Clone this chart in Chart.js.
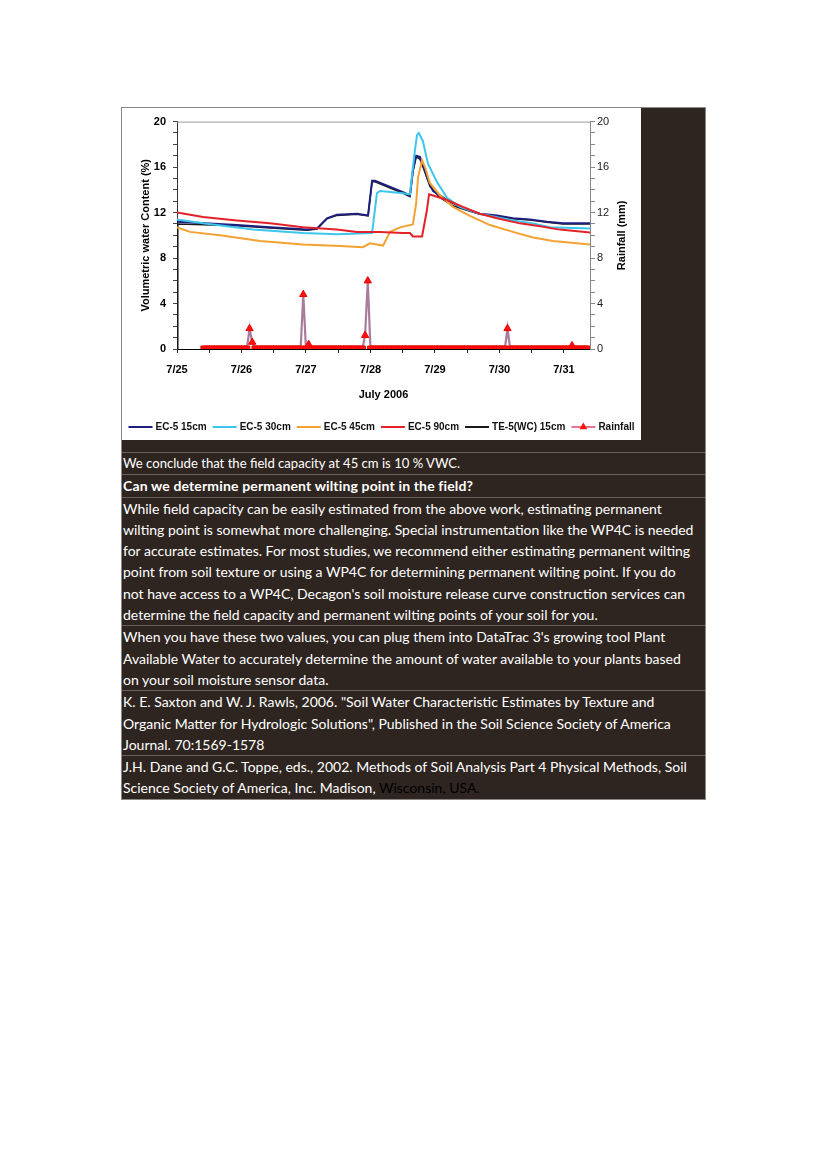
<!DOCTYPE html>
<html>
<head>
<meta charset="utf-8">
<script src="https://cdn.jsdelivr.net/npm/chart.js@4.4.1/dist/chart.umd.min.js"></script>
<style>
  html, body { margin: 0; padding: 0; background: #fff; }
  #sheet { position: absolute; left: 121px; top: 107px; width: 583px; background: #2f2520; border: 1px solid #8c8782; }
  #chartBox { position: relative; width: 519px; height: 332px; background: #fff; }
  #band { height: 12px; }
  .row { border-top: 1px solid #6a605a; color: #fff; font-family: Lato, "Open Sans", sans-serif; font-size: 14px; line-height: 21.3px; padding-left: 1px; white-space: nowrap; }
  .row.first { font-size: 13.1px; }
  .row.head { font-weight: bold; letter-spacing: 0.15px; }
  .dim { color: #000; }
</style>
</head>
<body>
<div id="sheet">
  <div id="chartBox"><canvas id="vwcChart"></canvas></div>
  <div id="band"></div>
  <div class="row first">We conclude that the field capacity at 45 cm is 10 % VWC.</div>
  <div class="row head">Can we determine permanent wilting point in the field?</div>
  <div class="row">While field capacity can be easily estimated from the above work, estimating permanent<br>wilting point is somewhat more challenging. Special instrumentation like the WP4C is needed<br>for accurate estimates. For most studies, we recommend either estimating permanent wilting<br>point from soil texture or using a WP4C for determining permanent wilting point. If you do<br>not have access to a WP4C, Decagon's soil moisture release curve construction services can<br>determine the field capacity and permanent wilting points of your soil for you.</div>
  <div class="row">When you have these two values, you can plug them into DataTrac 3's growing tool Plant<br>Available Water to accurately determine the amount of water available to your plants based<br>on your soil moisture sensor data.</div>
  <div class="row">K. E. Saxton and W. J. Rawls, 2006. "Soil Water Characteristic Estimates by Texture and<br>Organic Matter for Hydrologic Solutions", Published in the Soil Science Society of America<br>Journal. 70:1569-1578</div>
  <div class="row">J.H. Dane and G.C. Toppe, eds., 2002. Methods of Soil Analysis Part 4 Physical Methods, Soil<br>Science Society of America, Inc. Madison, <span class="dim">Wisconsin, USA.</span></div>
</div>
<script>
// x values are hours after 7/25 00:00
const dayLabels = ['7/25', '7/26', '7/27', '7/28', '7/29', '7/30', '7/31'];

const ec15Hours = [0, 22.3, 34.6, 48.4, 52.1, 55.8, 59.5, 67, 71.1, 72.6, 73.7, 84.1, 86.7, 87.8, 89, 90.4, 93, 95.3, 100.5, 106.4, 112.7, 119.1, 125, 131.3, 137.7, 143.6, 153.7];
const ec15Vwc   = [11.2, 10.9, 10.7, 10.5, 10.6, 11.5, 11.8, 11.9, 11.75, 14.8, 14.8, 13.8, 13.5, 15.7, 17.0, 16.9, 15.1, 13.9, 13.1, 12.4, 11.9, 11.75, 11.5, 11.4, 11.2, 11.05, 11.05];

const ec30Hours = [0, 9.7, 28.3, 46.9, 59.5, 72.6, 74.4, 75.5, 84.1, 86.7, 88.2, 89.3, 90, 91.5, 93.4, 96.7, 100.5, 105.3, 112.7, 119.1, 125, 132.5, 138.8, 153.7];
const ec30Vwc   = [11.4, 11.05, 10.5, 10.2, 10.1, 10.2, 13.7, 13.9, 13.7, 13.6, 16.8, 18.8, 19.0, 18.3, 16.3, 14.7, 13.3, 12.5, 11.9, 11.6, 11.3, 11.05, 10.7, 10.6];

const ec45Hours = [0, 4.8, 16, 30.9, 46.9, 60.7, 69.2, 71.8, 76.7, 79.3, 83, 87.8, 89, 89.7, 91.2, 92.3, 94.1, 97.9, 102.7, 109, 116.5, 125, 132.5, 139.9, 153.7];
const ec45Vwc   = [10.7, 10.3, 10.0, 9.5, 9.2, 9.05, 8.95, 9.3, 9.1, 10.3, 10.7, 10.95, 12.8, 15.1, 16.6, 16.0, 14.6, 13.5, 12.5, 11.7, 10.9, 10.3, 9.8, 9.5, 9.2];

const ec90Hours = [0, 9.7, 22.3, 34.6, 46.9, 59.5, 67, 75.5, 84.1, 86.7, 87.8, 91.2, 93, 93.8, 95.3, 100.5, 106.4, 112.7, 119.1, 127.6, 135.1, 142.5, 153.7];
const ec90Vwc   = [12.0, 11.6, 11.3, 11.05, 10.7, 10.5, 10.3, 10.3, 10.2, 10.2, 9.9, 9.9, 12.2, 13.6, 13.5, 13.1, 12.5, 11.9, 11.5, 11.05, 10.8, 10.5, 10.25];

const te5Hours = [0, 0.3, 22.3, 34.6, 48.4, 52.1, 55.8, 59.5, 67, 71.1, 72.6, 73.7, 84.1, 86.7, 87.8, 89, 90.4, 92.3, 94.1, 97.9, 102.7, 106.4, 112.7, 119.1, 125, 131.3, 137.7, 143.6, 153.7];
const te5Vwc   = [0, 11.0, 10.85, 10.65, 10.45, 10.55, 11.45, 11.75, 11.85, 11.7, 14.7, 14.7, 13.7, 13.4, 15.6, 16.9, 16.7, 15.6, 14.3, 13.3, 12.6, 12.3, 11.85, 11.7, 11.45, 11.35, 11.15, 11.0, 11.0];

// hourly rainfall (mm), first value at hour 10 of 7/25
const rainStartHour = 10;
const rainMm = [
  0, 0, 0, 0, 0, 0, 0, 0, 0, 0, 0, 0, 0, 0,
  0, 0, 0, 1.8, 0.6, 0, 0, 0, 0, 0, 0, 0, 0, 0, 0, 0, 0, 0, 0, 0, 0, 0, 0, 4.8,
  0, 0.4, 0, 0, 0, 0, 0, 0, 0, 0, 0, 0, 0, 0, 0, 0, 0, 0, 0, 0, 0, 0, 1.2, 6.0,
  0, 0, 0, 0, 0, 0, 0, 0, 0, 0, 0, 0, 0, 0, 0, 0, 0, 0, 0, 0, 0, 0, 0, 0,
  0, 0, 0, 0, 0, 0, 0, 0, 0, 0, 0, 0, 0, 0, 0, 0, 0, 0, 0, 0, 0, 0, 0, 0,
  0, 0, 0, 1.8, 0, 0, 0, 0, 0, 0, 0, 0, 0, 0, 0, 0, 0, 0, 0, 0, 0, 0, 0, 0,
  0, 0, 0, 0.3, 0, 0, 0, 0, 0, 0
];

const FONT = '"Liberation Sans", Arial, sans-serif';

function pts(hours, vals) {
  return hours.map((h, i) => ({ x: h, y: vals[i] }));
}
const rainPts = rainMm.map((v, i) => ({ x: rainStartHour + i, y: v }));

// top border of the plot area + right axis title
const frame = {
  id: 'frame',
  beforeDatasetsDraw(chart) {
    const { ctx, chartArea } = chart;
    ctx.save();
    ctx.strokeStyle = '#9a9a9a';
    ctx.lineWidth = 1;
    ctx.beginPath();
    ctx.moveTo(chartArea.left, chartArea.top + 0.5);
    ctx.lineTo(chartArea.right, chartArea.top + 0.5);
    ctx.stroke();
    ctx.restore();
  },
  afterDraw(chart) {
    const { ctx, chartArea } = chart;
    ctx.save();
    ctx.translate(500, (chartArea.top + chartArea.bottom) / 2);
    ctx.rotate(-Math.PI / 2);
    ctx.font = 'bold 11px ' + FONT;
    ctx.fillStyle = '#000';
    ctx.textAlign = 'center';
    ctx.textBaseline = 'middle';
    ctx.fillText('Rainfall (mm)', 0, 0);
    ctx.restore();
  }
};

// legend row under the axis title
const lineLegend = {
  id: 'lineLegend',
  afterDraw(chart) {
    const ctx = chart.ctx;
    const lineLen = 24, gap = 3, itemGap = 6, y = 319;
    ctx.save();
    ctx.font = 'bold 10px ' + FONT;
    const items = chart.data.datasets.map(ds => ({ ds, w: lineLen + gap + ctx.measureText(ds.label).width }));
    const total = items.reduce((s, it) => s + it.w, 0) + itemGap * (items.length - 1);
    let x = (chart.width - total) / 2;
    items.forEach(it => {
      const ds = it.ds;
      ctx.strokeStyle = ds.legendColor || ds.borderColor;
      ctx.lineWidth = 2;
      ctx.beginPath();
      ctx.moveTo(x, y);
      ctx.lineTo(x + lineLen, y);
      ctx.stroke();
      if (ds.legendMarker) {
        ctx.fillStyle = ds.pointBackgroundColor;
        const cx = x + lineLen / 2, r = 4.5;
        ctx.beginPath();
        ctx.moveTo(cx, y - r);
        ctx.lineTo(cx + r * 0.866, y + r / 2);
        ctx.lineTo(cx - r * 0.866, y + r / 2);
        ctx.closePath();
        ctx.fill();
      }
      ctx.fillStyle = '#111';
      ctx.textAlign = 'left';
      ctx.textBaseline = 'middle';
      ctx.fillText(ds.label, x + lineLen + gap, y + 0.5);
      x += it.w + itemGap;
    });
    ctx.restore();
  }
};

const lineBase = { pointRadius: 0, pointHitRadius: 0, tension: 0, fill: false, yAxisID: 'y' };

new Chart(document.getElementById('vwcChart'), {
  type: 'line',
  data: {
    datasets: [
      Object.assign({}, lineBase, { label: 'EC-5 15cm', data: pts(ec15Hours, ec15Vwc), borderColor: '#1e1e7e', borderWidth: 2, order: 4 }),
      Object.assign({}, lineBase, { label: 'EC-5 30cm', data: pts(ec30Hours, ec30Vwc), borderColor: '#3cc6ec', borderWidth: 2, order: 3 }),
      Object.assign({}, lineBase, { label: 'EC-5 45cm', data: pts(ec45Hours, ec45Vwc), borderColor: '#f3a232', borderWidth: 2, order: 2 }),
      Object.assign({}, lineBase, { label: 'EC-5 90cm', data: pts(ec90Hours, ec90Vwc), borderColor: '#e42128', borderWidth: 2, order: 1 }),
      Object.assign({}, lineBase, { label: 'TE-5(WC) 15cm', data: pts(te5Hours, te5Vwc), borderColor: '#1a1a1a', borderWidth: 1.5, order: 5 }),
      {
        label: 'Rainfall', data: rainPts, yAxisID: 'y2', order: 0, legendMarker: true,
        borderColor: '#a97c9c', legendColor: '#e4788a', borderWidth: 2.2, tension: 0, fill: false,
        // markers at zero overlap into one solid band along the axis
        pointStyle: c => (c.raw && c.raw.y > 0 ? 'triangle' : 'rect'),
        pointRadius: 4.2,
        pointBackgroundColor: '#ff1010', pointBorderColor: '#f00000', pointBorderWidth: 1
      }
    ]
  },
  options: {
    responsive: true,
    maintainAspectRatio: false,
    animation: false,
    events: [],
    layout: { padding: { top: 13, left: 0, right: 0, bottom: 0 } },
    plugins: { legend: { display: false }, tooltip: { enabled: false } },
    scales: {
      x: {
        type: 'linear', min: 0, max: 153.7,
        afterFit: s => { s.height = 91; },
        ticks: {
          stepSize: 12, includeBounds: false, autoSkip: false, maxRotation: 0, padding: 10,
          color: '#000', font: { family: FONT, size: 11, weight: 'bold' },
          callback: v => (v % 24 === 0 ? dayLabels[v / 24] : '')
        },
        grid: { drawOnChartArea: false, tickLength: 4, color: '#222' },
        border: { color: '#000', width: 1 },
        title: { display: true, text: 'July 2006', color: '#000', font: { family: FONT, size: 11, weight: 'bold' }, padding: { top: 0, bottom: 38 } }
      },
      y: {
        position: 'left', min: 0, max: 20,
        afterFit: s => { s.width = 55; },
        ticks: {
          stepSize: 1, autoSkip: false, padding: 7,
          color: '#000', font: { family: FONT, size: 11, weight: 'bold' },
          callback: v => (v % 4 === 0 ? v : '')
        },
        grid: { drawOnChartArea: false, tickLength: 4, color: '#444' },
        border: { color: '#333', width: 1 },
        title: { display: true, text: 'Volumetric water Content (%)', color: '#000', font: { family: FONT, size: 11, weight: 'bold' }, padding: { top: 17, bottom: 0 } }
      },
      y2: {
        position: 'right', min: 0, max: 20,
        afterFit: s => { s.width = 51; },
        ticks: {
          stepSize: 1, autoSkip: false, padding: 2,
          color: '#222', font: { family: FONT, size: 11 },
          callback: v => (v % 4 === 0 ? v : '')
        },
        grid: { drawOnChartArea: false, tickLength: 5, color: '#888' },
        border: { color: '#888', width: 1 }
      }
    }
  },
  plugins: [frame, lineLegend]
});
</script>
</body>
</html>
